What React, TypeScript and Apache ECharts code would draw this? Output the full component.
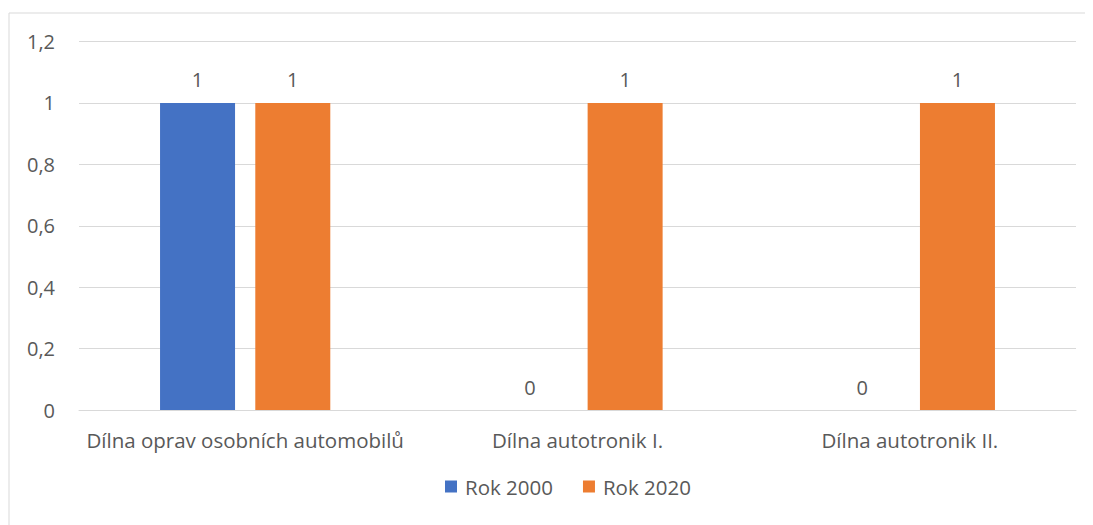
import React, { useEffect, useRef } from "react";
import * as echarts from "echarts";

const categories = ["Dílna oprav osobních automobilů", "Dílna autotronik I.", "Dílna autotronik II."];
const rok2000 = [1, 0, 0];
const rok2020 = [1, 1, 1];
const seriesNames = ["Rok 2000", "Rok 2020"];

const FONT = "Open Sans";
const TXT = "#595959";
const FS = 20;

export default function App() {
  const ref = useRef<HTMLDivElement>(null);
  useEffect(() => {
    const chart = echarts.init(ref.current!, null, { renderer: "svg" });
    chart.setOption({
      animation: false,
      textStyle: { fontFamily: FONT },
      graphic: [
        {
          type: "rect",
          shape: { x: 1, y: 5, width: 1200, height: 700 },
          style: { fill: "none", stroke: "#d9d9d9", lineWidth: 1 },
          silent: true,
        },
      ],
      grid: { left: 71, right: 17, top: 33.5, bottom: 115, containLabel: false },
      legend: {
        bottom: 23,
        left: 432,
        itemWidth: 12,
        itemHeight: 12,
        itemGap: 30,
        icon: "rect",
        textStyle: { fontSize: 20.5, color: TXT, fontFamily: FONT, padding: [0, 0, 0, 3] },
        data: seriesNames,
      },
      xAxis: {
        type: "category",
        data: categories,
        axisLine: { lineStyle: { color: "#d9d9d9" } },
        axisTick: { show: false },
        axisLabel: { fontSize: 20.5, color: TXT, margin: 19, fontFamily: FONT, interval: 0 },
      },
      yAxis: {
        type: "value",
        min: 0,
        max: 1.2,
        interval: 0.2,
        axisLine: { show: false },
        axisTick: { show: false },
        splitLine: { lineStyle: { color: "#d9d9d9" } },
        axisLabel: {
          fontSize: FS,
          color: TXT,
          margin: 24,
          fontFamily: FONT,
          formatter: (v: number) => (Math.round(v * 10) / 10).toString().replace(".", ","),
        },
      },
      series: [
        {
          name: seriesNames[0],
          type: "bar",
          data: rok2000,
          barWidth: 75,
          barGap: "27%",
          itemStyle: { color: "#4472C4" },
          label: { show: true, position: "top", distance: 13, fontSize: FS, color: TXT, fontFamily: FONT },
        },
        {
          name: seriesNames[1],
          type: "bar",
          data: rok2020,
          barWidth: 75,
          itemStyle: { color: "#ED7D31" },
          label: { show: true, position: "top", distance: 13, fontSize: FS, color: TXT, fontFamily: FONT },
        },
      ],
    });
    return () => chart.dispose();
  }, []);
  return <div ref={ref} style={{ width: 1085, height: 517 }} />;
}
